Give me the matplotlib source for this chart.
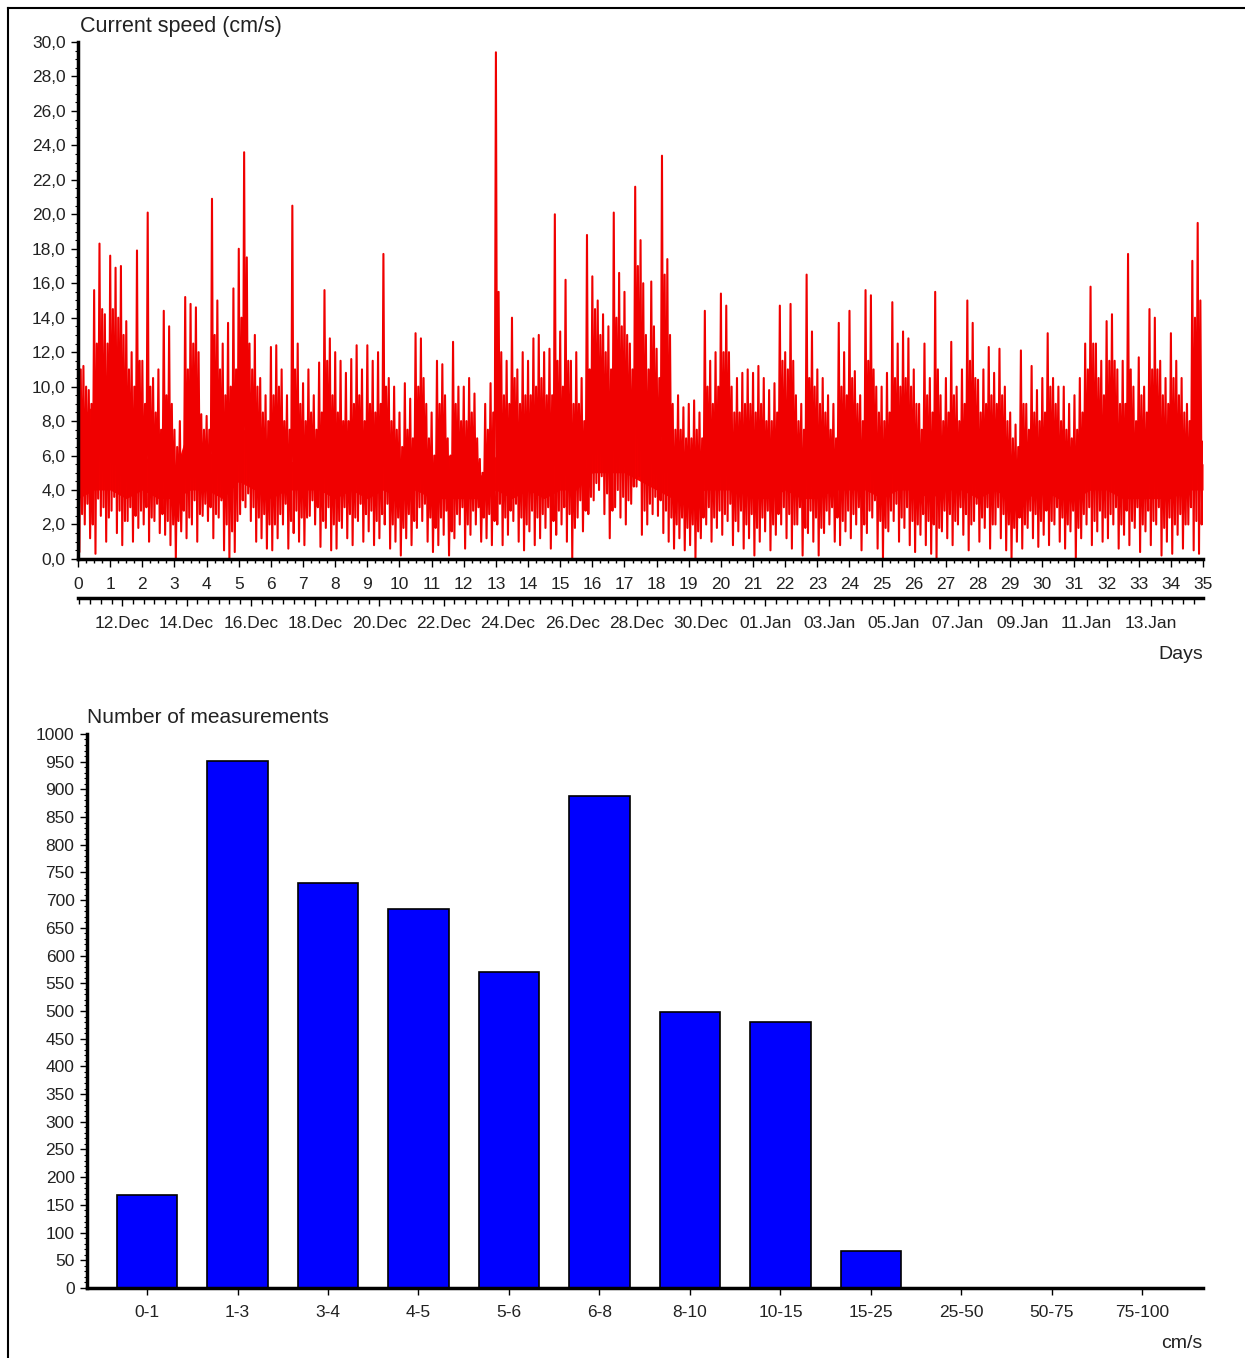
import numpy as np
import pandas as pd
import matplotlib
matplotlib.use("Agg")
import matplotlib.pyplot as plt
from matplotlib.ticker import MultipleLocator, FixedLocator, FuncFormatter
from matplotlib.lines import Line2D

plt.rcParams['font.family'] = ['Liberation Sans', 'DejaVu Sans']

# ======================
# 1. Current speed, cm/s
# ======================
# each 4 h slot (6 per day): peak, trough, secondary peak, secondary trough
speed_hi = [
    12.6, 11.2, 9.8, 15.6, 18.3, 14.2,    # day 0
    17.6, 16.9, 17.0, 13.8, 12.0, 17.9,   # 1
    11.5, 20.1, 10.5, 11.0, 14.4, 13.5,   # 2
    7.5, 8.0, 15.2, 14.8, 14.6, 8.4,      # 3
    8.3, 20.9, 15.0, 12.5, 13.7, 15.7,    # 4
    18.0, 23.6, 12.5, 13.0, 10.5, 9.5,    # 5
    12.3, 12.4, 11.0, 9.5, 20.5, 12.5,    # 6
    10.2, 11.0, 9.5, 11.4, 15.6, 12.8,    # 7
    12.0, 11.5, 10.8, 11.6, 12.4, 11.0,   # 8
    12.4, 11.5, 12.0, 17.7, 10.5, 10.0,   # 9
    8.5, 10.2, 9.3, 13.1, 12.8, 9.0,      # 10
    8.5, 11.5, 11.3, 7.0, 12.6, 10.0,     # 11
    10.0, 10.5, 9.6, 5.8, 9.0, 10.2,      # 12
    29.4, 12.0, 11.5, 14.0, 11.0, 12.0,   # 13
    11.5, 12.8, 13.0, 12.0, 12.2, 20.0,   # 14
    13.2, 16.2, 11.5, 12.0, 10.5, 18.8,   # 15
    16.4, 15.0, 14.2, 13.5, 20.1, 16.6,   # 16
    15.5, 12.5, 21.6, 18.5, 13.0, 16.1,   # 17
    12.2, 23.4, 17.4, 9.0, 9.5, 8.8,      # 18
    9.0, 9.2, 8.5, 14.4, 11.5, 12.0,      # 19
    15.4, 14.7, 10.0, 10.5, 10.8, 11.0,   # 20
    10.8, 11.2, 10.5, 9.8, 10.2, 14.7,    # 21
    12.0, 14.8, 9.5, 9.0, 16.5, 13.2,     # 22
    11.0, 10.5, 9.5, 9.0, 13.7, 12.0,     # 23
    14.4, 10.9, 9.5, 15.6, 15.3, 10.0,    # 24
    10.0, 10.8, 14.9, 12.5, 13.2, 12.8,   # 25
    11.0, 9.0, 12.5, 10.5, 15.5, 9.5,     # 26
    10.5, 12.6, 10.0, 11.0, 15.0, 13.7,   # 27
    10.4, 11.0, 12.3, 10.8, 12.2, 10.0,   # 28
    8.5, 7.8, 12.1, 9.0, 11.2, 9.8,       # 29
    10.5, 13.1, 10.5, 10.0, 10.0, 9.0,    # 30
    9.5, 10.5, 12.5, 15.8, 12.5, 11.5,    # 31
    13.8, 14.2, 11.0, 11.5, 17.7, 10.0,   # 32
    11.7, 10.0, 14.5, 14.0, 11.5, 10.5,   # 33
    13.1, 11.5, 10.5, 9.0, 17.3, 19.5,    # 34
]
speed_lo = [
    0.4, 2.0, 1.2, 0.3, 2.5, 1.0,
    2.8, 1.5, 0.8, 2.2, 1.0, 1.8,
    2.0, 1.0, 2.2, 1.5, 1.4, 0.8,
    0.0, 1.6, 1.2, 2.0, 1.0, 2.5,
    2.2, 1.2, 2.4, 0.5, 0.0, 0.4,
    2.6, 3.0, 2.2, 1.0, 1.2, 0.6,
    0.5, 1.2, 2.0, 0.6, 1.5, 1.0,
    0.8, 2.5, 2.0, 0.7, 1.8, 0.5,
    0.6, 1.8, 1.2, 0.8, 2.2, 1.0,
    1.6, 0.8, 1.2, 2.0, 0.6, 1.0,
    0.2, 1.2, 0.8, 1.8, 2.2, 1.0,
    0.4, 0.8, 1.4, 0.2, 1.2, 2.0,
    0.6, 1.4, 2.0, 1.0, 1.2, 0.8,
    2.0, 0.8, 1.4, 2.2, 1.0, 0.5,
    1.6, 0.8, 1.2, 1.8, 0.6, 1.4,
    2.0, 1.0, 0.0, 2.4, 1.6, 2.6,
    3.4, 4.0, 2.6, 1.2, 3.0, 2.4,
    2.0, 3.2, 4.2, 1.4, 2.0, 2.6,
    2.5, 1.5, 1.0, 0.6, 1.2, 0.5,
    0.8, 0.0, 1.2, 2.0, 1.0, 1.8,
    1.4, 2.2, 0.8, 1.6, 0.6, 1.2,
    0.2, 1.0, 1.6, 0.5, 1.4, 2.0,
    1.2, 0.6, 2.0, 0.2, 1.5, 1.0,
    0.2, 1.5, 2.0, 1.0, 0.8, 1.6,
    1.2, 2.0, 0.5, 1.5, 2.4, 0.6,
    0.0, 1.6, 2.2, 1.0, 1.8, 0.8,
    0.4, 1.4, 0.8, 0.3, 0.0, 1.6,
    1.2, 0.8, 2.0, 1.4, 0.5, 2.2,
    1.0, 1.8, 0.6, 2.0, 1.2, 0.5,
    0.0, 1.0, 0.6, 1.8, 1.2, 0.7,
    1.4, 0.8, 2.0, 1.0, 0.6, 1.6,
    0.0, 1.2, 2.0, 0.8, 1.6, 1.0,
    1.2, 2.0, 0.6, 1.4, 0.8, 1.8,
    0.4, 1.6, 0.8, 2.0, 0.2, 1.0,
    0.3, 1.4, 0.6, 2.0, 0.5, 0.3,
]
speed_mid = [
    11.0, 10.0, 9.0, 12.5, 14.5, 12.5,
    14.5, 14.0, 13.0, 11.0, 10.0, 11.5,
    9.0, 10.0, 8.5, 7.5, 9.5, 9.0,
    6.5, 6.0, 11.0, 12.5, 12.0, 7.5,
    7.5, 13.0, 11.0, 9.5, 10.0, 11.0,
    14.0, 17.5, 11.0, 10.0, 8.5, 8.0,
    9.5, 10.0, 8.0, 7.5, 11.0, 9.0,
    8.0, 8.5, 7.5, 8.5, 11.5, 9.5,
    8.5, 8.0, 8.0, 9.0, 9.5, 8.0,
    9.0, 8.5, 9.0, 10.0, 8.0, 7.5,
    6.5, 7.5, 7.0, 10.0, 10.5, 7.0,
    6.0, 9.0, 9.5, 6.0, 9.0, 8.0,
    8.0, 8.5, 7.0, 5.0, 7.5, 8.5,
    15.5, 9.5, 9.0, 10.5, 9.0, 9.5,
    9.5, 10.0, 10.5, 9.5, 9.5, 11.5,
    10.0, 11.5, 9.0, 9.0, 8.0, 11.0,
    14.5, 13.0, 12.0, 11.0, 14.0, 13.5,
    13.0, 11.0, 17.0, 16.0, 11.0, 13.5,
    10.5, 16.5, 13.0, 7.5, 7.5, 7.0,
    7.0, 7.5, 7.0, 10.0, 9.0, 10.0,
    12.0, 12.0, 8.5, 8.5, 9.0, 9.0,
    8.5, 9.0, 8.0, 8.0, 8.5, 11.5,
    11.0, 11.5, 8.0, 7.5, 10.5, 10.0,
    9.0, 8.5, 7.5, 7.0, 10.0, 9.5,
    10.5, 9.0, 8.0, 11.5, 11.0, 8.5,
    8.0, 8.5, 10.5, 10.0, 10.5, 10.0,
    9.0, 7.5, 9.5, 8.5, 11.0, 8.0,
    8.5, 9.5, 8.0, 9.0, 11.5, 10.5,
    8.5, 9.0, 9.5, 9.0, 9.5, 8.0,
    7.0, 6.5, 9.0, 7.5, 8.5, 8.0,
    8.5, 10.0, 9.0, 8.0, 7.5, 7.0,
    7.5, 8.5, 11.0, 12.5, 10.5, 9.5,
    11.5, 11.5, 9.0, 9.0, 11.0, 8.0,
    9.5, 8.5, 11.0, 11.0, 9.5, 9.0,
    10.5, 9.5, 8.5, 8.0, 14.0, 15.0,
]
speed_lo2 = [
    2.6, 3.2, 2.0, 3.5, 3.0, 2.4,
    3.6, 2.8, 2.2, 3.0, 2.5, 2.8,
    3.0, 2.4, 3.2, 2.6, 2.2, 2.0,
    2.2, 2.8, 2.4, 3.4, 2.6, 3.2,
    3.0, 2.6, 3.4, 2.0, 1.6, 2.2,
    3.4, 3.8, 3.0, 2.4, 2.6, 2.0,
    2.0, 2.6, 3.2, 2.2, 2.8, 2.4,
    2.4, 3.4, 3.0, 2.2, 3.0, 2.0,
    2.2, 3.0, 2.6, 2.4, 3.2, 2.6,
    2.8, 2.2, 2.6, 3.2, 2.0, 2.4,
    1.8, 2.6, 2.2, 3.0, 3.2, 2.4,
    1.8, 2.4, 2.8, 1.6, 2.6, 3.0,
    2.0, 2.8, 3.0, 2.4, 2.6, 2.2,
    3.2, 2.4, 2.8, 3.2, 2.4, 2.0,
    2.8, 2.4, 2.6, 3.0, 2.2, 2.8,
    3.0, 2.6, 1.8, 3.4, 2.8, 3.6,
    4.4, 4.8, 3.8, 2.8, 4.0, 3.6,
    3.4, 4.2, 4.8, 2.8, 3.2, 3.6,
    3.4, 2.8, 2.4, 2.0, 2.4, 1.8,
    2.0, 1.6, 2.4, 3.0, 2.4, 2.8,
    2.6, 3.2, 2.2, 2.8, 2.0, 2.6,
    1.8, 2.4, 2.8, 2.0, 2.6, 3.0,
    2.6, 2.0, 3.0, 1.8, 2.8, 2.4,
    1.8, 2.8, 3.0, 2.4, 2.2, 2.8,
    2.6, 3.0, 2.0, 2.8, 3.4, 2.2,
    1.8, 2.8, 3.2, 2.4, 3.0, 2.2,
    2.0, 2.6, 2.2, 2.0, 1.8, 2.8,
    2.6, 2.2, 3.0, 2.6, 2.0, 3.2,
    2.4, 3.0, 2.0, 3.0, 2.6, 2.0,
    1.8, 2.4, 2.0, 2.8, 2.6, 2.2,
    2.8, 2.2, 3.0, 2.4, 2.0, 2.8,
    1.8, 2.6, 3.0, 2.2, 2.8, 2.4,
    2.6, 3.0, 2.0, 2.8, 2.2, 3.0,
    2.0, 2.8, 2.2, 3.0, 1.8, 2.4,
    2.0, 2.6, 2.0, 3.0, 2.2, 2.0,
]
speed_end = 6.8

# solid centre of the band, every half day
core_hi = [8, 9, 9.5, 8, 6, 5.5, 5, 8, 6, 6.5, 8, 6.5, 6, 5.5, 6, 6, 6, 6, 6, 6,
           5, 6.5, 5, 6, 6, 4.8, 6, 6, 6.5, 6.5, 6, 6, 9, 8, 8, 9, 7, 5, 5, 6,
           7, 6, 6, 5, 6.5, 6, 5, 6, 6, 6.5, 6, 6.5, 6, 6, 6, 6.5, 6, 6, 5, 5,
           6, 6, 5, 7, 6.5, 6, 6, 6.5, 6, 7, 5.5]
core_lo = [3.5, 4, 4, 3.5, 4, 3.5, 3.5, 4, 4, 3.5, 4.5, 4, 3.5, 4, 4, 4, 3.5, 4, 3.5, 4,
           3.5, 4, 3.5, 3.5, 3.5, 3.5, 4, 3.5, 4, 3.5, 4, 4, 5, 5, 5, 4.5, 4, 3.5, 3.5, 4,
           4, 4, 3.5, 3.5, 4, 3.5, 3.5, 4, 4, 4, 3.5, 4, 4, 3.5, 4, 4, 3.5, 4, 3.5, 3.5,
           4, 3.5, 3.5, 4, 4, 3.5, 3.5, 3.5, 3.5, 4, 4]

start = pd.Timestamp("2012-12-10 15:00")
date_ticks = pd.date_range("2012-12-12", "2013-01-13", freq="2D")

# ======================
# 2. Histogram
# ======================
bins = ['0-1', '1-3', '3-4', '4-5', '5-6', '6-8', '8-10', '10-15',
        '15-25', '25-50', '50-75', '75-100']
counts = [168, 951, 731, 684, 570, 888, 498, 480, 67, 0, 0, 0]

# ======================
# 3. Figure
# ======================
fig = plt.figure(figsize=(12.45, 13.58), dpi=100)
ax1 = fig.add_axes([0.0627, 0.5884, 0.9036, 0.3807])
ax2 = fig.add_axes([0.0699, 0.05155, 0.8964, 0.4080])

txt = '#222222'

# --- time series ---
n = len(speed_hi)
t = np.arange(4 * n + 1) / 24.0
y = np.empty(4 * n + 1)
y[0:4 * n:4] = speed_hi
y[1:4 * n:4] = speed_lo
y[2:4 * n:4] = speed_mid
y[3:4 * n:4] = speed_lo2
y[-1] = speed_end

ax1.fill_between(np.arange(len(core_hi)) * 0.5, core_lo, core_hi, color='#ff0000', lw=0)
ax1.plot(t, y, color='#f00000', lw=1.5)

ax1.set_xlim(0, 35)
ax1.set_ylim(0, 30)
for s in ['top', 'right']:
    ax1.spines[s].set_visible(False)
for s in ['left', 'bottom']:
    ax1.spines[s].set_linewidth(2.5)
ax1.xaxis.set_major_locator(MultipleLocator(1))
ax1.xaxis.set_minor_locator(MultipleLocator(0.25))
ax1.yaxis.set_major_locator(MultipleLocator(2))
ax1.yaxis.set_minor_locator(MultipleLocator(0.5))
ax1.yaxis.set_major_formatter(FuncFormatter(lambda v, p: f"{v:.1f}".replace('.', ',')))
ax1.tick_params(axis='x', which='major', length=6, width=1, pad=7, labelsize=12.5, labelcolor=txt)
ax1.tick_params(axis='x', which='minor', length=3, width=1)
ax1.tick_params(axis='y', which='major', length=5, width=1, pad=4, labelsize=12.5, labelcolor=txt)
ax1.tick_params(axis='y', which='minor', length=2, width=0.8)
ax1.text(0.002, 1.01, 'Current speed (cm/s)', transform=ax1.transAxes,
         ha='left', va='bottom', fontsize=15.5, color=txt)

# second axis with calendar dates
date_pos = (date_ticks - start) / pd.Timedelta(days=1)
date_labels = [d.strftime('%d.%b') for d in date_ticks]
secax = ax1.secondary_xaxis(-0.0754)
secax.spines['bottom'].set_linewidth(2.5)
secax.set_xticks(date_pos, labels=date_labels)
minor_pos = date_pos[0] + np.arange(-4, 110) / 3.0
secax.xaxis.set_minor_locator(FixedLocator(minor_pos[(minor_pos >= 0) & (minor_pos <= 35)]))
secax.tick_params(axis='x', which='major', length=6, width=1, pad=7, labelsize=12.5, labelcolor=txt)
secax.tick_params(axis='x', which='minor', length=4, width=1)
fig.text(0.966, 0.5184, 'Days', ha='right', va='center', fontsize=14, color=txt)

# --- histogram ---
xpos = np.arange(len(bins))
ax2.bar(xpos, counts, width=0.67, color='#0000ff', edgecolor='black', linewidth=1.2)
ax2.set_xlim(-0.663, 11.67)
ax2.set_ylim(0, 1000)
for s in ['top', 'right']:
    ax2.spines[s].set_visible(False)
for s in ['left', 'bottom']:
    ax2.spines[s].set_linewidth(2.5)
ax2.set_xticks(xpos, labels=bins)
ax2.yaxis.set_major_locator(MultipleLocator(50))
ax2.yaxis.set_minor_locator(MultipleLocator(10))
ax2.tick_params(axis='x', which='major', length=5, width=1, pad=7, labelsize=12.5, labelcolor=txt)
ax2.tick_params(axis='y', which='major', length=5, width=1, pad=4, labelsize=12.5, labelcolor=txt)
ax2.tick_params(axis='y', which='minor', length=2, width=0.8)
ax2.text(0.0, 1.012, 'Number of measurements', transform=ax2.transAxes,
         ha='left', va='bottom', fontsize=15, color=txt)
fig.text(0.966, 0.011, 'cm/s', ha='right', va='center', fontsize=14, color=txt)

# frame lines at left and top
fig.add_artist(Line2D([8 / 1245, 8 / 1245], [0, 1 - 8 / 1358], color='black', lw=1.5,
                      transform=fig.transFigure))
fig.add_artist(Line2D([8 / 1245, 1], [1 - 8 / 1358, 1 - 8 / 1358], color='black', lw=1.5,
                      transform=fig.transFigure))

fig.savefig('out.png', dpi=100)
